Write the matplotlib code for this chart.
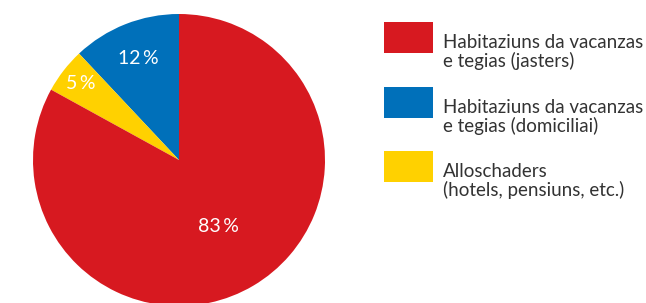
import matplotlib.pyplot as plt
import matplotlib.patches as mpatches
import numpy as np

categories = ['Habitaziuns da vacanzas\ne tegias (domiciliai)',
              'Alloschaders\n(hotels, pensiuns, etc.)',
              'Habitaziuns da vacanzas\ne tegias (jasters)']
values = [12, 5, 83]
colors = ['#0070BA', '#FFD100', '#D71920']
label_dist = [0.75, 0.85, 0.53]
legend_order = [2, 0, 1]

plt.rcParams['font.family'] = ['Lato', 'DejaVu Sans']

W, H = 646, 303
fig = plt.figure(figsize=(W / 100, H / 100), dpi=100)

# pie axes: centre (179, 160) px from top, radius 146 px
r = 146
ax = fig.add_axes([(179 - r) / W, (H - 160 - r) / H, 2 * r / W, 2 * r / H])
wedges, _ = ax.pie(values, colors=colors, startangle=90, counterclock=True,
                   wedgeprops=dict(linewidth=0))
ax.set_xlim(-1, 1)
ax.set_ylim(-1, 1)
ax.set_aspect('equal')
ax.axis('off')

for w, v, d in zip(wedges, values, label_dist):
    ang = np.deg2rad((w.theta1 + w.theta2) / 2)
    ax.text(d * np.cos(ang), d * np.sin(ang), f'{v}\u2009%', color='white',
            fontsize=14, ha='center', va='center')

# legend (va='baseline' on multi-line text anchors the last line)
for i, k in enumerate(legend_order):
    top = 22.3 + i * 64.5
    fig.patches.append(mpatches.Rectangle((384 / W, (H - top - 31) / H), 49 / W, 31 / H,
                                          transform=fig.transFigure, color=colors[k],
                                          linewidth=0))
    fig.text(443 / W, (H - top - 45) / H, categories[k], fontsize=13.5, color='#333333',
             ha='left', va='baseline', linespacing=1.05)

fig.savefig('out.png', dpi=100)
